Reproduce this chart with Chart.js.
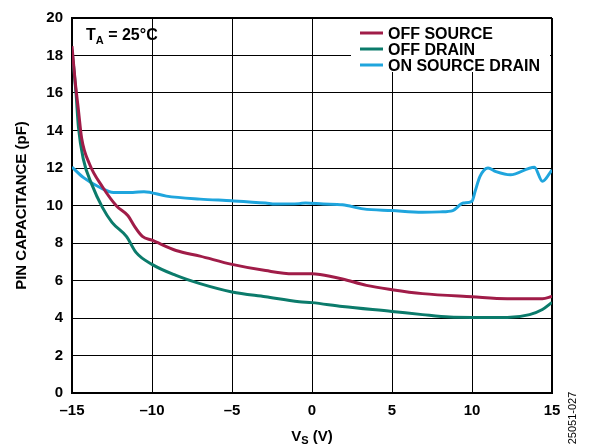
<!DOCTYPE html>
<html>
<head>
<meta charset="utf-8">
<script src="https://cdn.jsdelivr.net/npm/chart.js@4"></script>
<style>
  html, body { margin: 0; padding: 0; background: #fff; }
  #wrap { width: 591px; height: 448px; position: relative; }
</style>
</head>
<body>
<div id="wrap"><canvas id="capChart"></canvas></div>
<script>
const FONT = "'Liberation Sans', Arial, Helvetica, sans-serif";

const seriesNames = ['OFF SOURCE', 'OFF DRAIN', 'ON SOURCE DRAIN'];
const seriesColors = ['#a01c48', '#0b7b6b', '#1fa5dd'];
const xTickLabels = ['–15', '–10', '–5', '0', '5', '10', '15'];
const yTickLabels = ['0', '2', '4', '6', '8', '10', '12', '14', '16', '18', '20'];

// V_S (V) / capacitance (pF)
const offSourceV = [-15, -14.8, -14.6, -14.4, -13.9, -13.1, -12.2, -11.5, -11.1, -10.6, -10, -8.5, -7, -5, -2.9, -1.2, 0, 0.5, 1.9, 3.4, 5, 6.9, 10, 12.2, 14.4, 15];
const offSourceC = [18.5, 16.6, 15.1, 13.6, 12.2, 11.0, 9.96, 9.45, 8.9, 8.35, 8.15, 7.6, 7.3, 6.86, 6.53, 6.36, 6.36, 6.32, 6.08, 5.74, 5.51, 5.3, 5.13, 5.03, 5.03, 5.15];

const offDrainV = [-15, -14.75, -14.6, -14.3, -13.75, -13.1, -12.5, -11.6, -11.0, -10, -8.5, -7, -5, -2.9, -0.8, 0, 1.9, 5, 6.9, 8.6, 10, 12.2, 13.6, 14.4, 15];
const offDrainC = [18.3, 16.0, 14.2, 12.5, 11.1, 9.9, 9.1, 8.35, 7.5, 6.86, 6.27, 5.83, 5.39, 5.13, 4.87, 4.82, 4.61, 4.35, 4.18, 4.05, 4.03, 4.03, 4.18, 4.45, 4.83];

const onSourceDrainV = [-15, -14.3, -13.25, -12.4, -11.2, -10.5, -9.1, -7, -5, -2.9, -2.3, -0.8, -0.4, 0.7, 1.9, 3.2, 5, 6.9, 8.0, 8.8, 9.45, 10, 10.2, 10.5, 11.0, 11.5, 12.4, 13.9, 14.4, 15];
const onSourceDrainC = [12.05, 11.5, 10.96, 10.7, 10.7, 10.74, 10.5, 10.34, 10.25, 10.13, 10.08, 10.1, 10.13, 10.08, 10.04, 9.82, 9.73, 9.64, 9.66, 9.73, 10.13, 10.23, 10.77, 11.55, 12.0, 11.81, 11.64, 12.04, 11.29, 11.9];

function toPoints(xs, ys) {
  return xs.map((x, i) => ({ x: x, y: ys[i] }));
}

const seriesData = [
  toPoints(offSourceV, offSourceC),
  toPoints(offDrainV, offDrainC),
  toPoints(onSourceDrainV, onSourceDrainC)
];

// legend box, T_A note, axis titles with subscripts, figure number
const decorations = {
  id: 'decorations',
  beforeDatasetsDraw(chart) {
    const ctx = chart.ctx;
    const a = chart.chartArea;
    ctx.save();
    ctx.fillStyle = '#fff';
    ctx.fillRect(a.right - 201, a.top + 1, 199, 53);
    ctx.restore();
  },
  afterDraw(chart) {
    const ctx = chart.ctx;
    const a = chart.chartArea;
    ctx.save();
    ctx.fillStyle = '#000';
    ctx.textBaseline = 'alphabetic';

    // legend
    ctx.font = 'bold 16px ' + FONT;
    seriesNames.forEach((name, i) => {
      const y = a.top + 15 + i * 16;
      ctx.strokeStyle = seriesColors[i];
      ctx.lineWidth = 3;
      ctx.beginPath();
      ctx.moveTo(a.right - 192, y);
      ctx.lineTo(a.right - 169, y);
      ctx.stroke();
      ctx.fillText(name, a.right - 164, y + 6);
    });

    // T_A = 25°C
    let x = a.left + 14;
    const by = a.top + 22;
    ctx.font = 'bold 16px ' + FONT;
    ctx.fillText('T', x, by);
    x += ctx.measureText('T').width;
    ctx.font = 'bold 11px ' + FONT;
    ctx.fillText('A', x, by + 4);
    x += ctx.measureText('A').width;
    ctx.font = 'bold 16px ' + FONT;
    ctx.fillText(' = 25°C', x, by);

    // x axis title: V_S (V)
    const cx = (a.left + a.right) / 2;
    const tb = 441;
    ctx.font = 'bold 15px ' + FONT;
    const wV = ctx.measureText('V').width;
    const wRest = ctx.measureText(' (V)').width;
    ctx.font = 'bold 11px ' + FONT;
    const wS = ctx.measureText('S').width;
    let tx = cx - (wV + wS + wRest) / 2;
    ctx.font = 'bold 15px ' + FONT;
    ctx.fillText('V', tx, tb);
    tx += wV;
    ctx.font = 'bold 11px ' + FONT;
    ctx.fillText('S', tx, tb + 3);
    tx += wS;
    ctx.font = 'bold 15px ' + FONT;
    ctx.fillText(' (V)', tx, tb);

    // y axis title
    ctx.save();
    ctx.translate(26, (a.top + a.bottom) / 2);
    ctx.rotate(-Math.PI / 2);
    ctx.textAlign = 'center';
    ctx.font = 'bold 15px ' + FONT;
    ctx.fillText('PIN CAPACITANCE (pF)', 0, 0);
    ctx.restore();

    // figure number
    ctx.save();
    ctx.translate(576, 418);
    ctx.rotate(-Math.PI / 2);
    ctx.textAlign = 'center';
    ctx.font = '11px ' + FONT;
    ctx.fillText('25051-027', 0, 0);
    ctx.restore();

    ctx.restore();
  }
};

new Chart(document.getElementById('capChart'), {
  type: 'line',
  data: {
    datasets: seriesNames.map((name, i) => ({
      label: name,
      data: seriesData[i],
      borderColor: seriesColors[i],
      backgroundColor: seriesColors[i],
      borderWidth: 3,
      pointRadius: 0,
      fill: false,
      cubicInterpolationMode: 'monotone'
    }))
  },
  options: {
    responsive: true,
    maintainAspectRatio: false,
    animation: false,
    layout: { padding: { top: 11, right: 39, left: 0, bottom: 0 } },
    plugins: {
      legend: { display: false },
      tooltip: { enabled: false }
    },
    scales: {
      x: {
        type: 'linear',
        min: -15,
        max: 15,
        afterFit: (s) => { s.height = 55; },
        afterBuildTicks: (s) => { s.ticks = xTickLabels.map((t, i) => ({ value: -15 + i * 5 })); },
        ticks: {
          color: '#000',
          padding: 9,
          font: { family: FONT, size: 15, weight: 'bold' },
          callback: (v, i) => xTickLabels[i]
        },
        grid: {
          color: '#000',
          lineWidth: (c) => (c.tick && c.tick.value === 15 ? 2 : 1),
          drawTicks: false
        },
        border: { color: '#000', width: 2 }
      },
      y: {
        min: 0,
        max: 20,
        afterFit: (s) => { s.width = 72; },
        afterBuildTicks: (s) => { s.ticks = yTickLabels.map((t, i) => ({ value: i * 2 })); },
        ticks: {
          color: '#000',
          padding: 9,
          font: { family: FONT, size: 15, weight: 'bold' },
          callback: (v, i) => yTickLabels[i]
        },
        grid: {
          color: '#000',
          lineWidth: (c) => (c.tick && c.tick.value === 20 ? 2 : 1),
          drawTicks: false
        },
        border: { color: '#000', width: 2 }
      }
    }
  },
  plugins: [decorations]
});
</script>
</body>
</html>
